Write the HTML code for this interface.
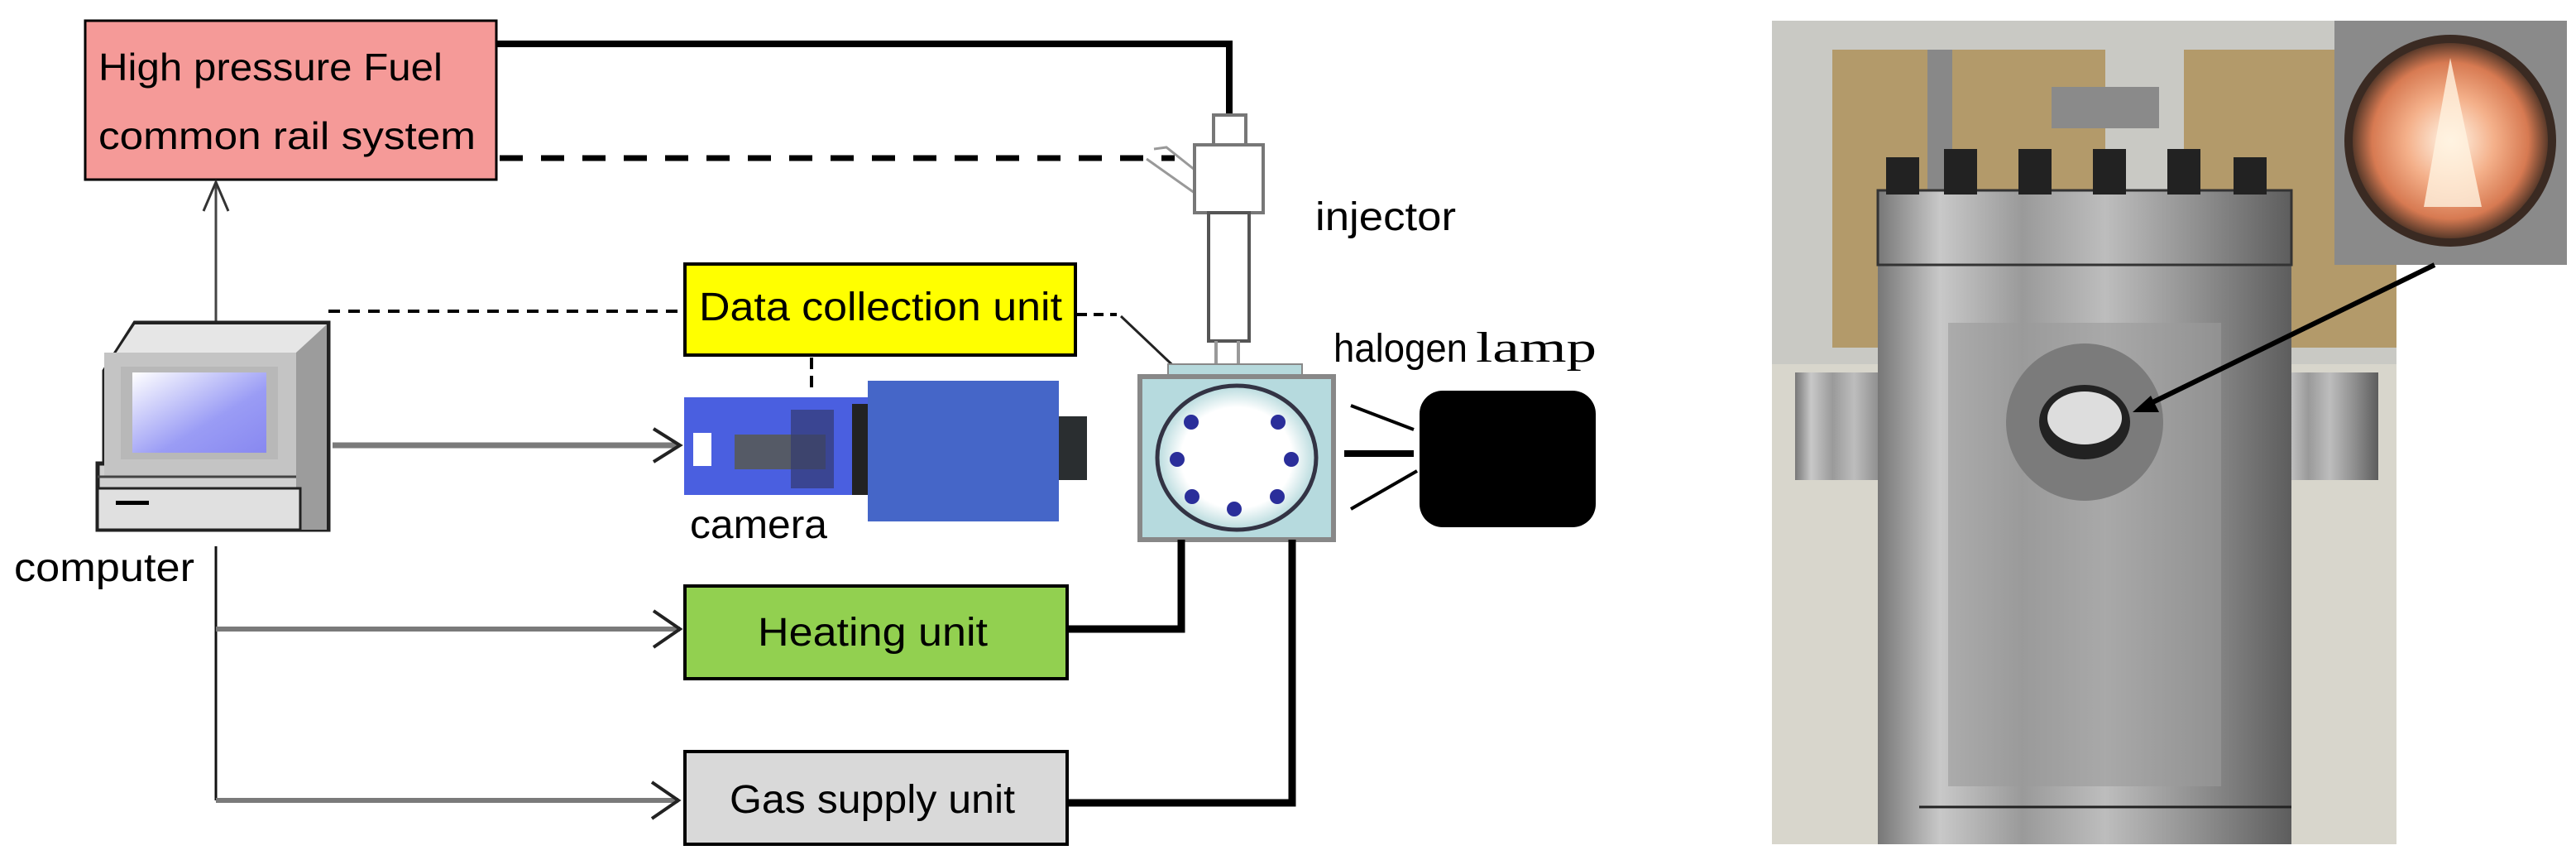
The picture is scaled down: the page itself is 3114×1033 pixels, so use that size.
<!DOCTYPE html>
<html><head><meta charset="utf-8"><style>html,body{margin:0;padding:0;background:#fff}svg{display:block}text{font-family:"Liberation Sans",sans-serif;fill:#000}</style></head>
<body>
<svg width="3114" height="1033" viewBox="0 0 3114 1033" xmlns="http://www.w3.org/2000/svg">
<defs>
<linearGradient id="scr" x1="0" y1="0" x2="1" y2="1"><stop offset="0" stop-color="#fff"/><stop offset="0.6" stop-color="#9a9cf5"/><stop offset="1" stop-color="#8888f0"/></linearGradient>
<linearGradient id="steel" x1="0" y1="0" x2="1" y2="0"><stop offset="0" stop-color="#777"/><stop offset="0.15" stop-color="#c8c8c8"/><stop offset="0.35" stop-color="#9a9a9a"/><stop offset="0.55" stop-color="#bdbdbd"/><stop offset="0.8" stop-color="#8a8a8a"/><stop offset="1" stop-color="#5d5d5d"/></linearGradient>
<radialGradient id="flame" cx="0.5" cy="0.5" r="0.5"><stop offset="0" stop-color="#fff6e8"/><stop offset="0.45" stop-color="#f4b08a"/><stop offset="0.8" stop-color="#d77a52"/><stop offset="1" stop-color="#5a3a2a"/></radialGradient>
<radialGradient id="win" cx="0.5" cy="0.5" r="0.5"><stop offset="0" stop-color="#fff"/><stop offset="0.7" stop-color="#fff"/><stop offset="1" stop-color="#b7dadd"/></radialGradient>
</defs>

<!-- Pink box -->
<rect x="103" y="25" width="497" height="192" fill="#f59a98" stroke="#000" stroke-width="3"/>
<text x="119" y="97" font-size="46" textLength="416" lengthAdjust="spacingAndGlyphs">High pressure Fuel</text>
<text x="119" y="180" font-size="46" textLength="456" lengthAdjust="spacingAndGlyphs">common rail system</text>

<!-- top solid line to injector -->
<polyline points="600,53 1486,53 1486,139" fill="none" stroke="#000" stroke-width="8"/>
<!-- dashed -->
<line x1="604" y1="191" x2="1420" y2="191" stroke="#000" stroke-width="7" stroke-dasharray="28,22"/>
<polyline points="1395,180 1410,178 1444,205" fill="none" stroke="#999" stroke-width="3"/>
<polyline points="1386,192 1444,233" fill="none" stroke="#999" stroke-width="3"/>

<!-- injector -->
<rect x="1467" y="139" width="39" height="36" fill="#fff" stroke="#777" stroke-width="4"/>
<rect x="1444" y="175" width="83" height="82" fill="#fff" stroke="#777" stroke-width="4"/>
<rect x="1461" y="257" width="49" height="155" fill="#fff" stroke="#555" stroke-width="4"/>
<line x1="1470" y1="412" x2="1470" y2="441" stroke="#999" stroke-width="4"/>
<line x1="1497" y1="412" x2="1497" y2="441" stroke="#999" stroke-width="4"/>
<text x="1590" y="278" font-size="48" fill="#111" textLength="170" lengthAdjust="spacingAndGlyphs">injector</text>

<!-- computer up arrow -->
<line x1="261" y1="390" x2="261" y2="222" stroke="#444" stroke-width="3"/>
<polyline points="246,255 261,220 276,255" fill="none" stroke="#333" stroke-width="3"/>

<!-- computer -->
<g>
<polygon points="163,390 397,390 397,640 118,640 118,560 126,560 126,448" fill="#d0d0d0" stroke="#222" stroke-width="5"/>
<polygon points="163,392 395,392 358,426 126,426 126,448" fill="#e6e6e6"/>
<polygon points="358,426 395,392 395,640 358,640" fill="#9c9c9c"/>
<rect x="126" y="426" width="232" height="150" fill="#c4c4c4"/>
<rect x="146" y="443" width="190" height="112" fill="#b8b8b8"/>
<rect x="160" y="450" width="162" height="97" fill="url(#scr)"/>
<rect x="118" y="590" width="245" height="50" fill="#e0e0e0" stroke="#222" stroke-width="3"/>
<rect x="140" y="605" width="40" height="5" fill="#000"/>
<line x1="118" y1="576" x2="358" y2="576" stroke="#444" stroke-width="3"/>
</g>
<text x="17" y="702" font-size="48" textLength="218" lengthAdjust="spacingAndGlyphs">computer</text>

<!-- dashed to data collection -->
<line x1="397" y1="376" x2="820" y2="376" stroke="#000" stroke-width="4" stroke-dasharray="14,10"/>
<rect x="828" y="319" width="472" height="110" fill="#ffff00" stroke="#000" stroke-width="4"/>
<text x="845" y="387" font-size="48" textLength="439" lengthAdjust="spacingAndGlyphs">Data collection  unit</text>
<line x1="1302" y1="380" x2="1350" y2="380" stroke="#000" stroke-width="4" stroke-dasharray="12,8"/>
<line x1="1355" y1="382" x2="1430" y2="453" stroke="#222" stroke-width="3"/>
<line x1="981" y1="432" x2="981" y2="470" stroke="#000" stroke-width="4" stroke-dasharray="14,8"/>

<!-- arrow computer -> camera -->
<line x1="402" y1="538" x2="818" y2="538" stroke="#7a7a7a" stroke-width="7"/>
<polyline points="790,518 822,538 790,558" fill="none" stroke="#222" stroke-width="4"/>

<!-- camera -->
<rect x="827" y="480" width="222" height="118" fill="#4a5fe0"/>
<rect x="838" y="523" width="22" height="40" fill="#fff"/>
<rect x="888" y="525" width="110" height="42" fill="#555a66"/>
<rect x="956" y="495" width="52" height="95" fill="#333a70" opacity="0.7"/>
<rect x="1030" y="488" width="19" height="110" fill="#222"/>
<rect x="1049" y="460" width="231" height="170" fill="#4566c8"/>
<rect x="1280" y="503" width="34" height="77" fill="#2a2e30"/>
<text x="834" y="650" font-size="48" textLength="166" lengthAdjust="spacingAndGlyphs">camera</text>

<!-- chamber -->
<rect x="1412" y="440" width="162" height="16" fill="#b6d9dc" stroke="#888" stroke-width="2"/>
<rect x="1378" y="455" width="234" height="197" fill="#b6dade" stroke="#888" stroke-width="6"/>
<ellipse cx="1495" cy="553" rx="96" ry="87" fill="url(#win)" stroke="#334" stroke-width="5"/>
<g fill="#2a2e9a">
<circle cx="1440" cy="510" r="9"/><circle cx="1545" cy="510" r="9"/>
<circle cx="1423" cy="555" r="9"/><circle cx="1561" cy="555" r="9"/>
<circle cx="1441" cy="600" r="9"/><circle cx="1544" cy="600" r="9"/>
<circle cx="1492" cy="615" r="9"/>
</g>

<!-- lamp -->
<rect x="1716" y="472" width="213" height="165" rx="28" fill="#000"/>
<line x1="1633" y1="490" x2="1709" y2="519" stroke="#000" stroke-width="4"/>
<line x1="1625" y1="548" x2="1709" y2="548" stroke="#000" stroke-width="8"/>
<line x1="1633" y1="615" x2="1713" y2="569" stroke="#000" stroke-width="4"/>
<text x="1612" y="437" font-size="48" textLength="162" lengthAdjust="spacingAndGlyphs">halogen</text>
<text x="1784" y="437" font-size="52" style="font-family:'Liberation Serif',serif" textLength="146" lengthAdjust="spacingAndGlyphs">lamp</text>

<!-- computer down line and arrows -->
<line x1="261" y1="660" x2="261" y2="967" stroke="#111" stroke-width="3"/>
<line x1="261" y1="760" x2="822" y2="760" stroke="#7a7a7a" stroke-width="6"/>
<polyline points="790,738 822,760 790,782" fill="none" stroke="#222" stroke-width="4"/>
<line x1="261" y1="967" x2="820" y2="967" stroke="#7a7a7a" stroke-width="6"/>
<polyline points="788,945 820,967 788,989" fill="none" stroke="#222" stroke-width="4"/>

<!-- heating -->
<rect x="828" y="708" width="462" height="112" fill="#92d050" stroke="#000" stroke-width="4"/>
<text x="916" y="780" font-size="48" textLength="278" lengthAdjust="spacingAndGlyphs">Heating unit</text>
<polyline points="1290,760 1428,760 1428,652" fill="none" stroke="#000" stroke-width="9"/>

<!-- gas -->
<rect x="828" y="908" width="462" height="112" fill="#d9d9d9" stroke="#000" stroke-width="4"/>
<text x="882" y="982" font-size="48" textLength="345" lengthAdjust="spacingAndGlyphs">Gas supply unit</text>
<polyline points="1290,970 1562,970 1562,652" fill="none" stroke="#000" stroke-width="9"/>

<!-- photo -->
<g>
<rect x="2142" y="25" width="755" height="995" fill="#c9c9c4"/>
<rect x="2215" y="60" width="330" height="360" fill="#b39a6a"/>
<rect x="2640" y="60" width="257" height="360" fill="#b39a6a"/>
<rect x="2142" y="440" width="755" height="580" fill="#d8d6cc"/>
<rect x="2330" y="60" width="30" height="200" fill="#888"/>
<rect x="2480" y="105" width="130" height="50" fill="#8a8a8a"/>
<rect x="2170" y="450" width="130" height="130" fill="url(#steel)"/>
<rect x="2745" y="450" width="130" height="130" fill="url(#steel)"/>
<rect x="2270" y="230" width="500" height="790" fill="url(#steel)"/>
<rect x="2270" y="230" width="500" height="90" fill="url(#steel)" stroke="#333" stroke-width="3"/>
<g fill="#222">
<rect x="2280" y="190" width="40" height="45"/><rect x="2350" y="180" width="40" height="55"/><rect x="2440" y="180" width="40" height="55"/><rect x="2530" y="180" width="40" height="55"/><rect x="2620" y="180" width="40" height="55"/><rect x="2700" y="190" width="40" height="45"/>
</g>
<rect x="2355" y="390" width="330" height="560" fill="#9b9b9b" opacity="0.6"/>
<circle cx="2520" cy="510" r="95" fill="#7b7b7b"/>
<ellipse cx="2520" cy="510" rx="55" ry="45" fill="#222"/>
<ellipse cx="2520" cy="505" rx="45" ry="32" fill="#ddd"/>
<line x1="2320" y1="975" x2="2770" y2="975" stroke="#222" stroke-width="3"/>
<rect x="2822" y="25" width="281" height="295" fill="#8a8a8a"/>
<circle cx="2962" cy="170" r="128" fill="#3a2a22"/>
<circle cx="2962" cy="170" r="118" fill="url(#flame)"/>
<polygon points="2962,70 2930,250 3000,250" fill="#fff3e0" opacity="0.8"/>
<line x1="2943" y1="320" x2="2590" y2="492" stroke="#000" stroke-width="6"/>
<polygon points="2578,498 2600,478 2610,498" fill="#000"/>
</g>
</svg>
</body></html>
